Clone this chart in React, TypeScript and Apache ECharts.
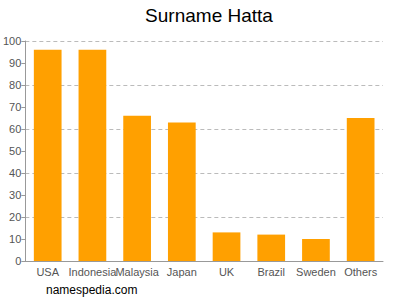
import React, { useEffect, useRef } from "react";
import * as echarts from "echarts";

const categories = ["USA", "Indonesia", "Malaysia", "Japan", "UK", "Brazil", "Sweden", "Others"];
const values = [96, 96, 66, 63, 13, 12, 10, 65];
const titleText = "Surname Hatta";
const footerText = "namespedia.com";

export default function App() {
  const ref = useRef<HTMLDivElement>(null);
  useEffect(() => {
    document.body.style.margin = "0";
    const chart = echarts.init(ref.current!, null, { renderer: "svg" });
    const font = "'Liberation Sans', Arial, sans-serif";
    chart.setOption({
      animation: false,
      textStyle: { fontFamily: font },
      title: {
        text: titleText,
        left: 204,
        top: 1,
        textAlign: "center",
        textStyle: { fontSize: 19, fontWeight: "normal", color: "#000", fontFamily: font },
      },
      graphic: [
        {
          type: "text",
          left: 46,
          top: 284,
          style: { text: footerText, fontSize: 12, fill: "#000", fontFamily: font },
        },
      ],
      grid: { left: 24, right: 17, top: 41, bottom: 39 },
      xAxis: {
        type: "category",
        data: categories,
        axisLine: { lineStyle: { color: "#999" } },
        axisTick: { alignWithLabel: true, length: 4, lineStyle: { color: "#999" } },
        axisLabel: { interval: 0, color: "#555", fontSize: 11, margin: 5, fontFamily: font },
      },
      yAxis: [
        {
          type: "value",
          min: 0,
          max: 100,
          interval: 10,
          axisLine: { show: true, lineStyle: { color: "#999" } },
          axisTick: { show: true, length: 4, lineStyle: { color: "#999" } },
          axisLabel: { color: "#555", fontSize: 11, margin: 4, fontFamily: font },
          splitLine: { show: false },
        },
        {
          type: "value",
          min: 0,
          max: 100,
          interval: 20,
          position: "left",
          axisLine: { show: false },
          axisTick: { show: false },
          axisLabel: { show: false },
          splitLine: { show: true, lineStyle: { color: "#bbb", type: [4, 3] } },
        },
      ],
      series: [
        {
          type: "bar",
          data: values,
          barWidth: "62%",
          itemStyle: { color: "#FFA000" },
        },
      ],
    });
    return () => chart.dispose();
  }, []);
  return <div ref={ref} style={{ width: 400, height: 300 }} />;
}
